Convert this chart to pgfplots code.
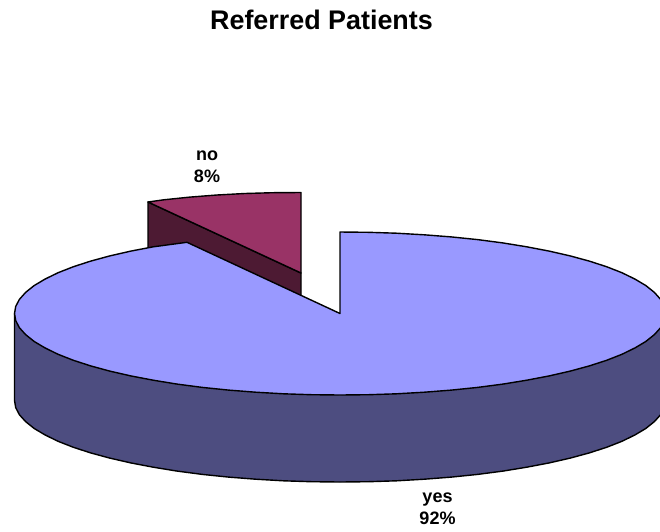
\documentclass[border=0pt]{standalone}
\usepackage{pgfplots}
\pgfplotsset{compat=1.18}
\usepackage{fontspec}
\setmainfont{Liberation Sans}
\definecolor{yestop}{HTML}{9999FF}
\definecolor{yesside}{HTML}{4D4D80}
\definecolor{notop}{HTML}{993366}
\definecolor{noside}{HTML}{4D1A33}
\begin{document}
\begin{tikzpicture}
\begin{axis}[
  scale only axis, width=660pt, height=531pt,
  xmin=0, xmax=660, ymin=0, ymax=531, y dir=reverse,
  axis lines=none, clip mode=individual,
  every axis plot/.append style={forget plot, no markers, line width=1.4pt, draw=black, line join=round},
]
% "no" slice: side face
\addplot[fill=noside] coordinates {(148,202) (301,273) (301,296) (148,250) } --cycle;
% "no" slice: top face
\addplot[fill=notop] coordinates {
 (301,273) (301,192.5) (272.7,192.7) (244.6,193.5) (216.9,195) (189.8,197.1) (163.7,199.8) (148,202)
} --cycle;
% "yes" slice: wall
\addplot[fill=yesside] coordinates {
 (14.5,313.5) (14.5,400.5) (15.7,407.6) (19.4,414.7) (25.6,421.6) (34.1,428.4) (45,434.9) (58.1,441.3)
 (73.4,447.3) (90.7,452.9) (109.8,458.1) (130.8,462.9) (153.3,467.2) (177.2,471.1) (202.4,474.4)
 (228.7,477.1) (255.8,479.2) (283.5,480.8) (311.6,481.7) (340,482) (368.4,481.7) (396.5,480.8)
 (424.2,479.2) (451.3,477.1) (477.6,474.4) (502.8,471.1) (526.7,467.2) (549.2,462.9) (570.2,458.1)
 (589.3,452.9) (606.6,447.3) (621.9,441.3) (635,434.9) (645.9,428.4) (654.4,421.6) (660.6,414.7)
 (664.3,407.6) (665.5,400.5) (665.5,313.5)
} --cycle;
% "yes" slice: top face
\addplot[fill=yestop] coordinates {
 (340,313.5) (340,232) (368.4,232.3) (396.5,233.2) (424.2,234.8) (451.3,236.9) (477.6,239.6) (502.8,242.9)
 (526.7,246.8) (549.2,251.1) (570.2,255.9) (589.3,261.1) (606.6,266.7) (621.9,272.7) (635,279.1)
 (645.9,285.6) (654.4,292.4) (660.6,299.4) (664.3,306.4) (665.5,313.5) (664.3,320.6) (660.6,327.7)
 (654.4,334.6) (645.9,341.4) (635,347.9) (621.9,354.3) (606.6,360.3) (589.3,365.9) (570.2,371.1)
 (549.2,375.9) (526.7,380.2) (502.8,384.1) (477.6,387.4) (451.3,390.1) (424.2,392.2) (396.5,393.8)
 (368.4,394.7) (340,395) (311.6,394.7) (283.5,393.8) (255.8,392.2) (228.7,390.1) (202.4,387.4)
 (177.2,384.1) (153.3,380.2) (130.8,375.9) (109.8,371.1) (90.7,365.9) (73.4,360.3) (58.1,354.3)
 (45,347.9) (34.1,341.4) (25.6,334.6) (19.4,327.7) (15.7,320.6) (14.5,313.5) (15.7,306.4) (19.4,299.4)
 (25.6,292.4) (34.1,285.6) (45,279.1) (58.1,272.7) (73.4,266.7) (90.7,261.1) (109.8,255.9) (130.8,251.1)
 (153.3,246.8) (177.2,243.6) (187,242.3)
} --cycle;
\node[font=\bfseries\fontsize{26.9pt}{30pt}\selectfont, anchor=center] at (axis cs:321.5,19.5) {Referred Patients};
\node[font=\bfseries\fontsize{18pt}{22pt}\selectfont, align=center, anchor=center] at (axis cs:207,166.5) {no\\8\%};
\node[font=\bfseries\fontsize{18pt}{22pt}\selectfont, align=center, anchor=center] at (axis cs:437.5,508.5) {yes\\92\%};
\end{axis}
\pgfresetboundingbox
\path[use as bounding box] (current axis.south west) rectangle (current axis.north east);
\end{tikzpicture}
\end{document}
